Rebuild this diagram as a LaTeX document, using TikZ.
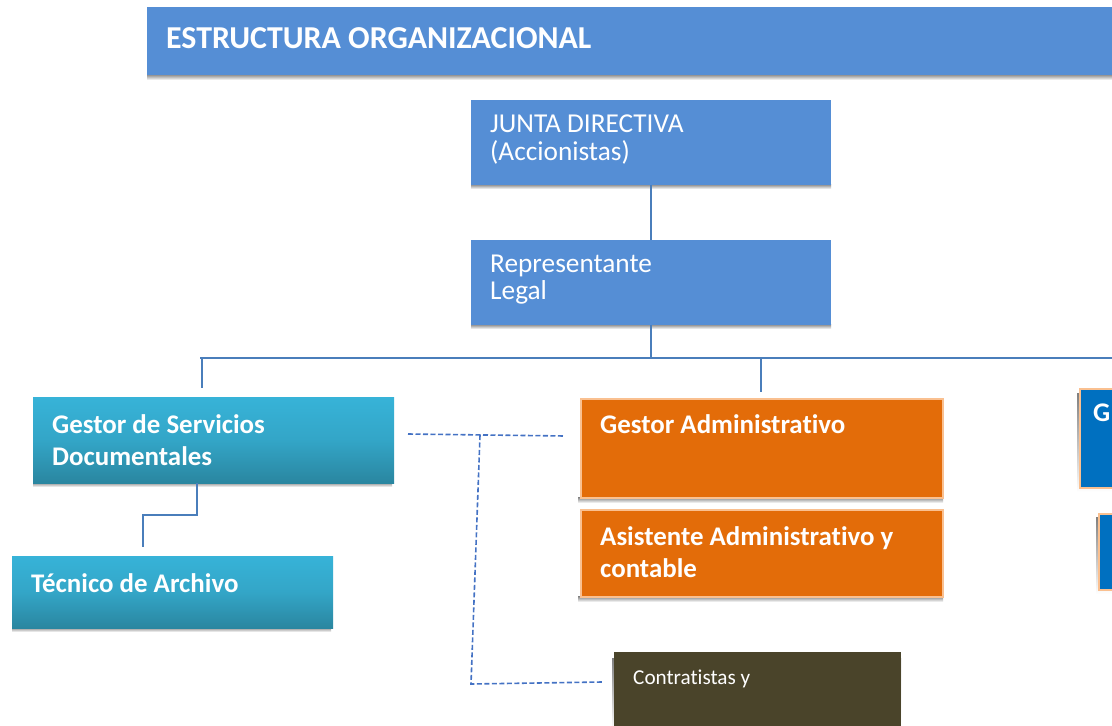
\documentclass[tikz,border=0pt]{standalone}
\usepackage{fontspec}
\setmainfont[Ligatures=NoCommon]{Carlito}
\definecolor{titleblue}{HTML}{558ED5}
\definecolor{tealtop}{HTML}{37B3D8}
\definecolor{tealbot}{HTML}{2A86A0}
\definecolor{orgfill}{HTML}{E36C09}
\definecolor{orgedge}{HTML}{FAC090}
\definecolor{rblue}{HTML}{0070C0}
\definecolor{olive}{HTML}{4A442A}
\definecolor{shade}{HTML}{A6A6A6}
\definecolor{conn}{HTML}{4A7EBB}
\definecolor{dconn}{HTML}{4472C4}
\newcommand\boxlines[1]{\begin{tabular}[t]{@{}l@{}}#1\end{tabular}}
\tikzset{
  x=1pt, y=-1pt,
  boxbase/.style={anchor=north west, inner sep=0, outer sep=0},
  bluebox/.style={boxbase, fill=titleblue},
  tealbox/.style={boxbase, top color=tealtop, bottom color=tealbot, middle color=tealtop!70!tealbot},
  orgbox/.style={boxbase, fill=orgfill, draw=orgedge, line width=2pt},
  rbluebox/.style={boxbase, fill=rblue, draw=orgedge, line width=2pt},
  olivebox/.style={boxbase, fill=olive},
  lbl/.style={anchor=base west, inner sep=0, text=white, align=left},
  reg/.style={lbl, font=\fontsize{27.3}{27}\selectfont},
  bld/.style={lbl, font=\bfseries\fontsize{26.9}{32.5}\selectfont},
  solidconn/.style={draw=conn, line width=2pt},
  dashconn/.style={draw=dconn, line width=1.6pt, dash pattern=on 5pt off 2.5pt},
}
\begin{document}
\begin{tikzpicture}
\clip (0,0) rectangle (1112,726);
\fill[white] (0,0) rectangle (1112,726);

% shadows
\fill[shade] (147,74) rectangle (1112,80);
\fill[shade] (471,184) rectangle (831,189);
\fill[shade] (471,324) rectangle (831,329);
\fill[shade] (33,482) rectangle (392,487);
\fill[shade] (12,627) rectangle (331,632);
\fill[shade] (578,497) rectangle (943,503);
\fill[shade] (578,596) rectangle (943,602);
\fill[shade] (1077,393) rectangle (1112,492);
\fill[shade] (1096,517) rectangle (1112,594);
\fill[shade] (612,658) rectangle (901,730);

% title
\node[bluebox, minimum width=965pt, minimum height=68pt] (title) at (147,7) {};
\node[lbl, font=\bfseries\fontsize{31.9}{32}\selectfont] (title-t) at (166,48.5) {ESTRUCTURA ORGANIZACIONAL};

% junta
\node[bluebox, minimum width=360pt, minimum height=85pt] (junta) at (471,100) {};
\node[reg] (junta-t) at (490,132.5) {\boxlines{JUNTA DIRECTIVA\\(Accionistas)}};

% representante
\node[bluebox, minimum width=360pt, minimum height=85pt] (rep) at (471,240) {};
\node[reg] (rep-t) at (490,272.5) {\boxlines{Representante\\Legal}};

% gestor servicios documentales
\node[tealbox, minimum width=361pt, minimum height=86pt] (gsd) at (33,397) {};
\node[bld] (gsd-t) at (52,433) {\boxlines{Gestor de Servicios\\Documentales}};

% tecnico de archivo
\node[tealbox, minimum width=321pt, minimum height=72pt] (tec) at (12,556) {};
\node[bld] (tec-t) at (31,592) {Técnico de Archivo};

% gestor administrativo
\node[orgbox, minimum width=362pt, minimum height=99pt] (gadm) at (581,399) {};
\node[bld] (gadm-t) at (600,433) {Gestor Administrativo};

% asistente
\node[orgbox, minimum width=362pt, minimum height=87pt] (asis) at (581,510) {};
\node[bld] (asis-t) at (600,545) {\boxlines{Asistente Administrativo y\\contable}};

% right blue boxes
\node[rbluebox, minimum width=60pt, minimum height=99pt] (rb1) at (1080,389) {};
\node[bld] (rb1-t) at (1093,421) {G};
\node[rbluebox, minimum width=40pt, minimum height=76pt] (rb2) at (1099,514) {};

% contratistas
\node[olivebox, minimum width=287pt, minimum height=80pt] (contr) at (614,652) {};
\node[lbl, font=\fontsize{21.2}{24}\selectfont] (contr-t) at (633,684) {Contratistas y};

% solid connectors
\coordinate (bus) at (651,358);
\coordinate (busL) at (200,358);
\coordinate (busR) at (1112,358);
\path[solidconn] (junta.south) -- (rep.north);
\path[solidconn] (rep.south) -- (bus);
\path[solidconn] (busL) -- (busR);
\coordinate (dropL) at (202,388);
\coordinate (dropM) at (761,392);
\path[solidconn] (dropL |- bus) -- (dropL);
\path[solidconn] (dropM |- bus) -- (dropM);
\coordinate (tecTop) at (143,547);
\path[solidconn] (197,483) |- (170,515) -| (tecTop);

% dashed connectors
\coordinate (dA) at (408,434);
\coordinate (dB) at (565,436);
\coordinate (dJ) at (480,435);
\coordinate (dC) at (471,684);
\coordinate (dD) at (602,682);
\path[dashconn] (dA) -- (dB);
\path[dashconn] (dJ) -- (dC) -- (dD);
\end{tikzpicture}
\end{document}
